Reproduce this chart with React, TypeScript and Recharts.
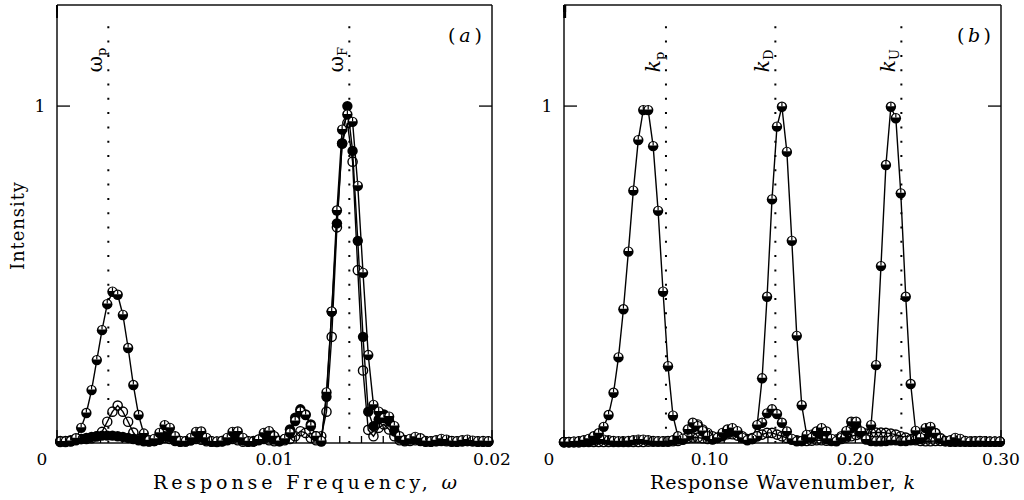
import React from 'react';
import { LineChart, Line, XAxis, YAxis, ReferenceLine, Label } from 'recharts';

// panel (a): response frequency grid and the three intensity curves
const OMEGA = [
  0.00015, 0.00039, 0.00063, 0.00087, 0.00111, 0.00135, 0.00159, 0.00183, 0.00207, 0.00231,
  0.00255, 0.00279, 0.00303, 0.00327, 0.00351, 0.00375, 0.00399, 0.00423, 0.00447, 0.00471,
  0.00495, 0.00519, 0.00543, 0.00567, 0.00591, 0.00615, 0.00639, 0.00663, 0.00687, 0.00711,
  0.00735, 0.00759, 0.00783, 0.00807, 0.00831, 0.00855, 0.00879, 0.00903, 0.00927, 0.00951,
  0.00975, 0.00999, 0.01023, 0.01047, 0.01071, 0.01095, 0.01119, 0.01143, 0.01167, 0.01191,
  0.01215, 0.01239, 0.01263, 0.01287, 0.01311, 0.01335, 0.01359, 0.01383, 0.01407, 0.01431,
  0.01455, 0.01479, 0.01503, 0.01527, 0.01551, 0.01575, 0.01599, 0.01623, 0.01647, 0.01671,
  0.01695, 0.01719, 0.01743, 0.01767, 0.01791, 0.01815, 0.01839, 0.01863, 0.01887, 0.01911,
  0.01935, 0.01959, 0.01983,
];
const A_HALF = [
  0.004, 0.004, 0.006, 0.014, 0.045, 0.089, 0.157, 0.246, 0.335, 0.412,
  0.449, 0.44, 0.38, 0.282, 0.172, 0.083, 0.028, 0.008, 0.012, 0.03,
  0.053, 0.045, 0.02, 0.006, 0.005, 0.015, 0.033, 0.034, 0.015, 0.005,
  0.004, 0.006, 0.015, 0.033, 0.034, 0.015, 0.005, 0.004, 0.01, 0.03,
  0.035, 0.02, 0.006, 0.012, 0.03, 0.065, 0.093, 0.083, 0.05, 0.02,
  0.006, 0.15, 0.39, 0.69, 0.93, 0.975, 0.953, 0.763, 0.505, 0.261,
  0.113, 0.093, 0.074, 0.078, 0.05, 0.02, 0.008, 0.012, 0.018, 0.014,
  0.006, 0.005, 0.008, 0.012, 0.01, 0.006, 0.005, 0.008, 0.01, 0.007,
  0.005, 0.006, 0.005,
];
const A_OPEN = [
  0.006, 0.006, 0.008, 0.01, 0.012, 0.012, 0.014, 0.02, 0.033, 0.063,
  0.093, 0.111, 0.093, 0.063, 0.031, 0.012, 0.008, 0.005, 0.006, 0.01,
  0.015, 0.012, 0.006, 0.004, 0.005, 0.008, 0.012, 0.01, 0.005, 0.004,
  0.004, 0.006, 0.01, 0.012, 0.008, 0.004, 0.004, 0.006, 0.01, 0.012,
  0.008, 0.005, 0.006, 0.008, 0.012, 0.02, 0.035, 0.03, 0.015, 0.008,
  0.02, 0.093, 0.315, 0.64, 0.889, 0.95, 0.835, 0.513, 0.215, 0.039,
  0.02, 0.045, 0.055, 0.04, 0.02, 0.008, 0.005, 0.006, 0.008, 0.006,
  0.004, 0.004, 0.005, 0.006, 0.005, 0.004, 0.004, 0.005, 0.006, 0.005,
  0.004, 0.004, 0.004,
];
const A_SOLID = [
  0.003, 0.003, 0.004, 0.008, 0.012, 0.015, 0.018, 0.02, 0.022, 0.022,
  0.022, 0.02, 0.018, 0.015, 0.012, 0.008, 0.005, 0.004, 0.006, 0.012,
  0.02, 0.018, 0.008, 0.004, 0.004, 0.008, 0.016, 0.018, 0.008, 0.004,
  0.003, 0.004, 0.008, 0.016, 0.018, 0.008, 0.004, 0.004, 0.008, 0.015,
  0.018, 0.01, 0.005, 0.012, 0.04, 0.075, 0.1, 0.085, 0.055, 0.02,
  0.004, 0.137, 0.39, 0.652, 0.889, 1.0, 0.867, 0.6, 0.315, 0.093,
  0.05, 0.07, 0.085, 0.065, 0.035, 0.015, 0.008, 0.01, 0.012, 0.008,
  0.005, 0.004, 0.006, 0.008, 0.007, 0.005, 0.004, 0.005, 0.006, 0.005,
  0.004, 0.004, 0.004,
];

// panel (b): response wavenumber grid
const K = [
  0, 0.0034, 0.0068, 0.0102, 0.0136, 0.017, 0.0204, 0.0238, 0.0272, 0.0306,
  0.034, 0.0374, 0.0408, 0.0442, 0.0476, 0.051, 0.0544, 0.0578, 0.0612, 0.0646,
  0.068, 0.0714, 0.0748, 0.0782, 0.0816, 0.085, 0.0884, 0.0918, 0.0952, 0.0986,
  0.102, 0.1054, 0.1088, 0.1122, 0.1156, 0.119, 0.1224, 0.1258, 0.1292, 0.1326,
  0.136, 0.1394, 0.1428, 0.1462, 0.1496, 0.153, 0.1564, 0.1598, 0.1632, 0.1666,
  0.17, 0.1734, 0.1768, 0.1802, 0.1836, 0.187, 0.1904, 0.1938, 0.1972, 0.2006,
  0.204, 0.2074, 0.2108, 0.2142, 0.2176, 0.221, 0.2244, 0.2278, 0.2312, 0.2346,
  0.238, 0.2414, 0.2448, 0.2482, 0.2516, 0.255, 0.2584, 0.2618, 0.2652, 0.2686,
  0.272, 0.2754, 0.2788, 0.2822, 0.2856, 0.289, 0.2924, 0.2958, 0.2992,
];
const B_MAIN = [
  0.003, 0.003, 0.004, 0.005, 0.008, 0.012, 0.02, 0.029, 0.048, 0.083,
  0.149, 0.254, 0.397, 0.568, 0.749, 0.899, 0.988, 0.988, 0.881, 0.689,
  0.449, 0.228, 0.081, 0.02, 0.012, 0.04, 0.06, 0.05, 0.035, 0.02,
  0.01, 0.015, 0.03, 0.04, 0.044, 0.035, 0.015, 0.008, 0.012, 0.053,
  0.192, 0.434, 0.723, 0.939, 0.998, 0.864, 0.6, 0.318, 0.112, 0.024,
  0.015, 0.034, 0.044, 0.034, 0.012, 0.005, 0.015, 0.035, 0.063, 0.063,
  0.034, 0.01, 0.053, 0.231, 0.525, 0.825, 0.998, 0.964, 0.741, 0.434,
  0.175, 0.036, 0.015, 0.044, 0.048, 0.029, 0.012, 0.006, 0.008, 0.015,
  0.012, 0.006, 0.004, 0.005, 0.006, 0.005, 0.004, 0.004, 0.004,
];
const B_SMALL = [
  0.003, 0.003, 0.004, 0.004, 0.005, 0.006, 0.008, 0.01, 0.01, 0.008,
  0.006, 0.005, 0.005, 0.006, 0.008, 0.01, 0.01, 0.008, 0.006, 0.005,
  0.005, 0.006, 0.008, 0.01, 0.012, 0.02, 0.045, 0.055, 0.04, 0.03,
  0.02, 0.015, 0.02, 0.03, 0.035, 0.03, 0.02, 0.01, 0.012, 0.02,
  0.06, 0.088, 0.1, 0.086, 0.06, 0.034, 0.012, 0.005, 0.006, 0.015,
  0.025, 0.03, 0.025, 0.012, 0.006, 0.01, 0.02, 0.02, 0.045, 0.05,
  0.03, 0.012, 0.006, 0.005, 0.005, 0.006, 0.008, 0.008, 0.006, 0.006,
  0.008, 0.01, 0.012, 0.025, 0.035, 0.03, 0.015, 0.006, 0.005, 0.005,
  0.006, 0.005, 0.004, 0.004, 0.005, 0.004, 0.004, 0.004, 0.004,
];
const B_OPEN = [
  0.002, 0.002, 0.002, 0.002, 0.003, 0.003, 0.003, 0.003, 0.003, 0.003,
  0.003, 0.003, 0.003, 0.003, 0.003, 0.003, 0.003, 0.004, 0.004, 0.004,
  0.004, 0.004, 0.005, 0.006, 0.01, 0.014, 0.016, 0.016, 0.014, 0.012,
  0.012, 0.016, 0.022, 0.026, 0.026, 0.022, 0.016, 0.012, 0.015, 0.02,
  0.025, 0.03, 0.03, 0.025, 0.02, 0.015, 0.01, 0.008, 0.006, 0.006,
  0.007, 0.008, 0.008, 0.007, 0.008, 0.01, 0.012, 0.016, 0.02, 0.024,
  0.026, 0.028, 0.03, 0.031, 0.031, 0.03, 0.028, 0.025, 0.02, 0.016,
  0.012, 0.008, 0.006, 0.005, 0.005, 0.006, 0.006, 0.005, 0.004, 0.004,
  0.004, 0.004, 0.004, 0.004, 0.004, 0.004, 0.004, 0.004, 0.004,
];

// axis ticks
const TICKS_A = [
  0, 0.001, 0.002, 0.003, 0.004, 0.005, 0.006, 0.007, 0.008, 0.009, 0.01,
  0.011, 0.012, 0.013, 0.014, 0.015, 0.016, 0.017, 0.018, 0.019, 0.02,
];
const MAJOR_A = [0, 0.01, 0.02];
const LABELS_A = ['0', '0.01', '0.02'];
const TICKS_B = [
  0, 0.01, 0.02, 0.03, 0.04, 0.05, 0.06, 0.07, 0.08, 0.09, 0.1,
  0.11, 0.12, 0.13, 0.14, 0.15, 0.16, 0.17, 0.18, 0.19, 0.2,
  0.21, 0.22, 0.23, 0.24, 0.25, 0.26, 0.27, 0.28, 0.29, 0.3,
];
const MAJOR_B = [0, 0.1, 0.2, 0.3];
const LABELS_B = ['0', '0.10', '0.20', '0.30'];
const Y_TICKS = [1];

// dotted marker lines
const MARKS_A = [
  { x: 0.00236, main: 'ω', sub: 'p' },
  { x: 0.01344, main: 'ω', sub: 'F' },
];
const MARKS_B = [
  { x: 0.07, main: 'k', sub: 'p' },
  { x: 0.1451, main: 'k', sub: 'D' },
  { x: 0.2316, main: 'k', sub: 'U' },
];

const FONT = '"DejaVu Serif", serif';
const INK = '#000';
const R = 5.2;

const rowsA = OMEGA.map((w, i) => ({ x: w, half: A_HALF[i], open: A_OPEN[i], solid: A_SOLID[i] }));
const rowsB = K.map((k, i) => ({ x: k, main: B_MAIN[i], small: B_SMALL[i], open: B_OPEN[i] }));

// markers: black disc with white upper half, open ring, plain disc
function HalfDot(props: any) {
  const { cx, cy } = props;
  if (cx == null || cy == null) return <g />;
  return (
    <g>
      <circle cx={cx} cy={cy} r={R} fill={INK} />
      <path d={`M${cx - 3.5},${cy - 0.6} A3.5,3.5 0 0 1 ${cx + 3.5},${cy - 0.6} Z`} fill="#fff" />
      <line x1={cx} y1={cy - 0.6} x2={cx} y2={cy - 4.3} stroke={INK} strokeWidth={1.2} />
    </g>
  );
}
function OpenDot(props: any) {
  const { cx, cy } = props;
  if (cx == null || cy == null) return <g />;
  return <circle cx={cx} cy={cy} r={R - 0.6} fill="none" stroke={INK} strokeWidth={1.4} />;
}
function SolidDot(props: any) {
  const { cx, cy } = props;
  if (cx == null || cy == null) return <g />;
  return <circle cx={cx} cy={cy} r={R} fill={INK} />;
}

function xTick(side: 'top' | 'bottom', majors: number[], labels: string[]) {
  return (props: any) => {
    const { x, y, payload } = props;
    const i = majors.findIndex((m) => Math.abs(m - payload.value) < 1e-9);
    const len = i >= 0 ? 13 : 7;
    const dir = side === 'bottom' ? -1 : 1;
    return (
      <g>
        <line x1={x} y1={y} x2={x} y2={y + dir * len} stroke={INK} strokeWidth={1.3} />
        {side === 'bottom' && i >= 0 && (
          <text x={payload.value === 0 ? x - 15 : x} y={y + 22} textAnchor="middle"
                fontFamily={FONT} fontSize={17} fill={INK}>
            {labels[i]}
          </text>
        )}
      </g>
    );
  };
}

function yTick(side: 'left' | 'right') {
  return (props: any) => {
    const { x, y, payload } = props;
    const dir = side === 'left' ? 1 : -1;
    return (
      <g>
        <line x1={x} y1={y} x2={x + dir * 13} y2={y} stroke={INK} strokeWidth={1.3} />
        {side === 'left' && (
          <text x={x - 17} y={y + 6} textAnchor="middle" fontFamily={FONT} fontSize={17} fill={INK}>
            {payload.value}
          </text>
        )}
      </g>
    );
  };
}

function MarkLabel({ viewBox, main, sub, italic }: any) {
  if (!viewBox) return null;
  const x = viewBox.x - 6;
  const y = viewBox.y + 47;
  return (
    <text transform={`translate(${x},${y}) rotate(-90)`} fontFamily={FONT} fontSize={20} fill={INK}
          fontStyle={italic ? 'italic' : 'normal'}>
      {main}
      <tspan dy={4} fontSize={13} fontStyle="normal">{sub}</tspan>
    </text>
  );
}

type PanelProps = {
  rows: any[];
  domain: [number, number];
  ticks: number[];
  majors: number[];
  labels: string[];
  marks: { x: number; main: string; sub: string }[];
  italicMark: boolean;
  margin: { top: number; right: number; bottom: number; left: number };
  title: React.ReactNode;
  titleDx: number;
  titleLength: number;
  tag: string;
  yTitle: boolean;
  series: { key: string; dot: (p: any) => React.ReactElement }[];
};

function Panel(p: PanelProps) {
  const axisLine = { stroke: '#111', strokeWidth: 1.5 };
  return (
    <LineChart width={512} height={500} data={p.rows} margin={p.margin}>
      <XAxis dataKey="x" type="number" domain={p.domain} ticks={p.ticks} interval={0}
             height={1} tickSize={0} tickMargin={0} axisLine={axisLine} tickLine={false}
             tick={xTick('bottom', p.majors, p.labels)}>
        <Label content={(lp: any) => (
          <text x={lp.viewBox.x + p.titleDx} y={lp.viewBox.y + 46} fontFamily={FONT} fontSize={19}
                fill={INK} textLength={p.titleLength} lengthAdjust="spacing">
            {p.title}
          </text>
        )} />
      </XAxis>
      <XAxis xAxisId="top" orientation="top" type="number" domain={p.domain} ticks={p.ticks}
             interval={0} allowDataOverflow height={1} tickSize={0} tickMargin={0}
             axisLine={axisLine} tickLine={false} tick={xTick('top', p.majors, p.labels)} />
      <YAxis type="number" domain={[0, 1.3]} ticks={Y_TICKS} interval={0} width={1}
             tickSize={0} tickMargin={0} axisLine={axisLine} tickLine={false} tick={yTick('left')}>
        {p.yTitle && (
          <Label content={(lp: any) => (
            <text transform={`translate(${lp.viewBox.x - 32},${lp.viewBox.y + 221}) rotate(-90)`}
                  textAnchor="middle" fontFamily={FONT} fontSize={18} fill={INK}
                  textLength={88} lengthAdjust="spacing">
              Intensity
            </text>
          )} />
        )}
      </YAxis>
      <YAxis yAxisId="r" orientation="right" type="number" domain={[0, 1.3]} ticks={Y_TICKS}
             interval={0} allowDataOverflow width={1} tickSize={0} tickMargin={0}
             axisLine={axisLine} tickLine={false} tick={yTick('right')}>
        <Label content={(lp: any) => (
          <text x={lp.viewBox.x - 10} y={lp.viewBox.y + 37} textAnchor="end" fontFamily={FONT}
                fontSize={19} fill={INK} textLength={34} lengthAdjust="spacing">
            (<tspan fontStyle="italic">{p.tag}</tspan>)
          </text>
        )} />
      </YAxis>
      {p.marks.map((m) => (
        <ReferenceLine key={m.sub} segment={[{ x: m.x, y: 0 }, { x: m.x, y: 1.24 }]}
                       stroke={INK} strokeWidth={2} strokeDasharray="2 12.3"
                       label={(lp: any) => <MarkLabel viewBox={lp.viewBox} main={m.main} sub={m.sub} italic={p.italicMark} />} />
      ))}
      {p.series.map((s) => (
        <Line key={s.key} type="linear" dataKey={s.key} stroke={INK} strokeWidth={1.4}
              dot={s.dot} activeDot={false} isAnimationActive={false} />
      ))}
    </LineChart>
  );
}

export default function App() {
  return (
    <div style={{ position: 'absolute', left: 0, top: 0, width: 1024, height: 500, background: '#fff' }}>
      <div style={{ position: 'absolute', left: 0, top: 0 }}>
        <Panel rows={rowsA} domain={[0, 0.02]} ticks={TICKS_A} majors={MAJOR_A} labels={LABELS_A}
               marks={MARKS_A} italicMark={false}
               margin={{ top: 4, right: 19, bottom: 56, left: 56 }}
               title={<>Response Frequency, <tspan fontStyle="italic">ω</tspan></>}
               titleDx={96} titleLength={304} tag="a" yTitle
               series={[
                 { key: 'solid', dot: SolidDot },
                 { key: 'open', dot: OpenDot },
                 { key: 'half', dot: HalfDot },
               ]} />
      </div>
      <div style={{ position: 'absolute', left: 512, top: 0 }}>
        <Panel rows={rowsB} domain={[0, 0.3]} ticks={TICKS_B} majors={MAJOR_B} labels={LABELS_B}
               marks={MARKS_B} italicMark
               margin={{ top: 4, right: 22, bottom: 56, left: 51 }}
               title={<>Response Wavenumber, <tspan fontStyle="italic">k</tspan></>}
               titleDx={86} titleLength={265} tag="b" yTitle={false}
               series={[
                 { key: 'open', dot: OpenDot },
                 { key: 'small', dot: HalfDot },
                 { key: 'main', dot: HalfDot },
               ]} />
      </div>
    </div>
  );
}
